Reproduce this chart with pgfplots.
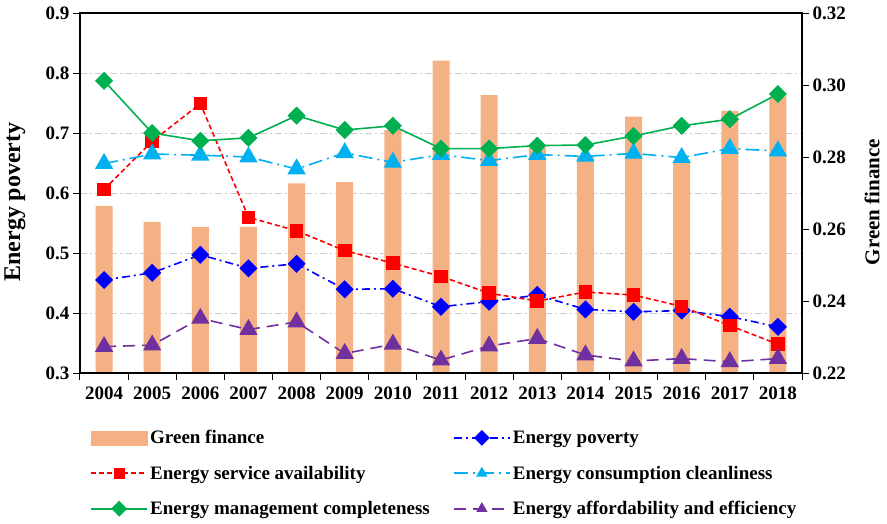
\documentclass[border=0pt]{standalone}
\usepackage{fontspec}
\setmainfont{Liberation Serif}
\usepackage{pgfplots}
\pgfplotsset{compat=1.18}
\definecolor{barc}{RGB}{244,177,131}
\definecolor{cgreen}{RGB}{0,176,80}
\definecolor{ccyan}{RGB}{0,176,240}
\definecolor{cpurple}{RGB}{112,48,160}
\definecolor{cblue}{RGB}{0,0,255}
\definecolor{cred}{RGB}{255,0,0}
\definecolor{gridc}{RGB}{205,205,205}
\newcommand{\tickfont}{\fontsize{19}{22}\selectfont\bfseries}
\pgfplotsset{
  common/.style={
    at={(0,0)}, anchor=south west,
    scale only axis, width=722pt, height=360pt,
    xmin=-0.5, xmax=14.5,
    tick align=outside, major tick length=7pt, minor tick length=7pt,
    tick style={black, line width=1pt},
    axis line style={line width=1.3pt},
    ticklabel style={font=\tickfont},
    /pgf/number format/assume math mode=true,
  }
}
\begin{document}
\begin{tikzpicture}
\useasboundingbox (-80pt,-150pt) rectangle (807pt,373pt);
\begin{axis}[common,
  ymin=0.22, ymax=0.32,
  axis x line=none, axis y line*=right,
  ytick={0.22,0.24,0.26,0.28,0.30,0.32},
  yticklabel style={/pgf/number format/.cd, fixed, fixed zerofill, precision=2},
  extra y ticks={0.236667,0.253333,0.27,0.286667,0.303333},
  extra y tick labels={},
  extra y tick style={grid=major, major tick length=0pt,
     grid style={gridc, line width=0.9pt, dash pattern=on 7pt off 3pt on 2pt off 3pt}},
  ylabel={Green finance},
  ylabel style={at={(axis description cs:1.097,0.475)}, anchor=center, font=\fontsize{21}{24}\selectfont\bfseries},
]
\addplot[ybar, bar width=17pt, bar shift=0pt, fill=barc, draw=none] coordinates {
(0,0.2664) (1,0.2620) (2,0.2605) (3,0.2606) (4,0.2727) (5,0.2730) (6,0.2875)
(7,0.3068) (8,0.2972) (9,0.2827) (10,0.2800) (11,0.2912) (12,0.2785) (13,0.2928) (14,0.2968)};
\end{axis}
\begin{axis}[common,
  ymin=0.3, ymax=0.9,
  ytick={0.3,0.4,...,0.9},
  ytick pos=left, xtick pos=bottom,
  yticklabel style={/pgf/number format/.cd, fixed, fixed zerofill, precision=1},
  xtick={0,...,14},
  xticklabels={2004,2005,2006,2007,2008,2009,2010,2011,2012,2013,2014,2015,2016,2017,2018},
  xticklabel style={yshift=-3pt},
  major x tick style={draw=none},
  minor xtick={-0.5,0.5,...,14.5},
  ylabel={Energy poverty},
  ylabel style={at={(axis description cs:-0.09,0.475)}, anchor=center, font=\fontsize{24}{27}\selectfont\bfseries},
  legend columns=2,
  legend style={at={(axis description cs:0.0097,-0.148)}, anchor=north west, draw=none, fill=none,
     font=\fontsize{19}{22}\selectfont\bfseries, cells={anchor=west}, row sep=16.6pt,
     /tikz/column 2/.style={column sep=21pt}},
  legend image code/.code={\draw[mark repeat=2,mark phase=2,#1,mark size=4.6pt,line width=2pt] plot coordinates {(0pt,0pt) (28pt,0pt) (56pt,0pt)};},
]
\addlegendimage{legend image code/.code={\fill[barc] (0pt,-7pt) rectangle (56pt,7pt);}}
\addlegendentry{Green finance}
\addplot[cblue, line width=1.6pt, dash pattern=on 8pt off 4pt on 2pt off 4pt, mark=square*, mark size=5.6pt, mark options={solid, rotate=45}] coordinates {
(0,0.455) (1,0.467) (2,0.497) (3,0.4745) (4,0.482) (5,0.4395) (6,0.4405) (7,0.4105) (8,0.419) (9,0.430) (10,0.406) (11,0.402) (12,0.404) (13,0.394) (14,0.377)};
\addlegendentry{Energy poverty}
\addplot[cred, line width=1.6pt, dash pattern=on 5pt off 3pt, mark=square*, mark size=6pt, mark options={solid}] coordinates {
(0,0.606) (1,0.686) (2,0.749) (3,0.5595) (4,0.537) (5,0.504) (6,0.483) (7,0.461) (8,0.433) (9,0.420) (10,0.435) (11,0.430) (12,0.411) (13,0.379) (14,0.348)};
\addlegendentry{Energy service availability}
\addplot[ccyan, line width=1.6pt, dash pattern=on 14pt off 5pt on 2pt off 5pt, mark=triangle*, mark size=9pt, mark options={solid}] coordinates {
(0,0.649) (1,0.665) (2,0.663) (3,0.660) (4,0.640) (5,0.667) (6,0.651) (7,0.664) (8,0.654) (9,0.664) (10,0.661) (11,0.666) (12,0.659) (13,0.674) (14,0.670)};
\addlegendentry{Energy consumption cleanliness}
\addplot[cgreen, line width=1.6pt, solid, mark=square*, mark size=5.6pt, mark options={solid, rotate=45}] coordinates {
(0,0.787) (1,0.700) (2,0.687) (3,0.692) (4,0.729) (5,0.705) (6,0.712) (7,0.674) (8,0.674) (9,0.679) (10,0.680) (11,0.695) (12,0.712) (13,0.723) (14,0.765)};
\addlegendentry{Energy management completeness}
\addplot[cpurple, line width=1.6pt, dash pattern=on 12pt off 7pt, mark=triangle*, mark size=9pt, mark options={solid}] coordinates {
(0,0.344) (1,0.3465) (2,0.391) (3,0.3725) (4,0.385) (5,0.3325) (6,0.348) (7,0.3215) (8,0.345) (9,0.3575) (10,0.330) (11,0.320) (12,0.324) (13,0.3187) (14,0.324)};
\addlegendentry{Energy affordability and efficiency}
\end{axis}
\end{tikzpicture}
\end{document}
